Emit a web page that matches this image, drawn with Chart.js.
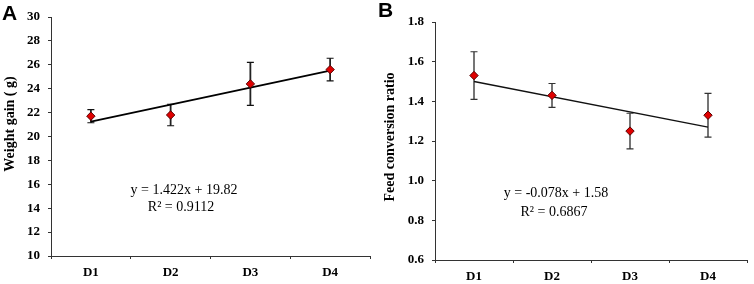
<!DOCTYPE html>
<html>
<head>
<meta charset="utf-8">
<script src="https://cdn.jsdelivr.net/npm/chart.js@4/dist/chart.umd.min.js"></script>
<style>
	html, body { margin: 0; padding: 0; background: #fff; }
	.panel { position: absolute; top: 0; width: 377px; height: 284px; }
	#panel-a { left: 0; }
	#panel-b { left: 377px; }
</style>
</head>
<body>
<div class="panel" id="panel-a"><canvas id="chart-a"></canvas></div>
<div class="panel" id="panel-b"><canvas id="chart-b"></canvas></div>
<script>
const CATEGORIES = ["D1", "D2", "D3", "D4"];

// Panel A - weight gain (g)
const WEIGHT_GAIN = [21.7, 21.8, 24.4, 25.6];
const WEIGHT_SD = [0.55, 0.9, 1.8, 0.95];
const WEIGHT_TREND = [21.24, null, null, 25.51];
const WEIGHT_TICKS = [10, 12, 14, 16, 18, 20, 22, 24, 26, 28, 30];

// Panel B - feed conversion ratio
const FCR = [1.53, 1.43, 1.25, 1.33];
const FCR_SD = [0.12, 0.06, 0.09, 0.11];
const FCR_TREND = [1.5, null, null, 1.27];
const FCR_TICKS = [0.6, 0.8, 1.0, 1.2, 1.4, 1.6, 1.8];

const SERIF = '"Liberation Serif", "Times New Roman", serif';
const SANS = '"Liberation Sans", Arial, sans-serif';
const AXIS = "#333";

// error bars, panel letter, axis title and regression text
const extrasPlugin = {
	id: "extras",
	beforeDatasetsDraw(chart, args, opts) {
		const { ctx, scales } = chart;
		const meta = chart.getDatasetMeta(0);
		ctx.save();
		opts.values.forEach((v, i) => {
			const x = meta.data[i].x;
			const top = scales.y.getPixelForValue(v + opts.sd[i]);
			const bot = scales.y.getPixelForValue(v - opts.sd[i]);
			ctx.strokeStyle = opts.errColor;
			ctx.lineWidth = 1.8;
			ctx.beginPath();
			ctx.moveTo(x, top);
			ctx.lineTo(x, bot);
			ctx.stroke();
			ctx.strokeStyle = opts.capColor;
			ctx.lineWidth = 1.2;
			ctx.beginPath();
			ctx.moveTo(x - 3.5, top);
			ctx.lineTo(x + 3.5, top);
			ctx.moveTo(x - 3.5, bot);
			ctx.lineTo(x + 3.5, bot);
			ctx.stroke();
		});
		ctx.restore();
	},
	afterDraw(chart, args, opts) {
		const { ctx } = chart;
		ctx.save();
		ctx.fillStyle = "#000";
		ctx.font = `bold 21px ${SANS}`;
		ctx.textAlign = "left";
		ctx.textBaseline = "alphabetic";
		ctx.fillText(opts.letter, opts.letterX, opts.letterY);

		ctx.save();
		ctx.translate(opts.titleX, opts.titleY);
		ctx.rotate(-Math.PI / 2);
		ctx.font = `bold 14px ${SERIF}`;
		ctx.textAlign = "center";
		ctx.textBaseline = "middle";
		ctx.fillText(opts.title, 0, 0);
		ctx.restore();

		ctx.font = `14px ${SERIF}`;
		ctx.textAlign = "center";
		ctx.textBaseline = "middle";
		ctx.fillText(opts.eq, opts.eqX, opts.eqY);
		ctx.fillText(opts.r2, opts.r2X, opts.r2Y);
		ctx.restore();
	},
};

const makeChart = (id, cfg) => {
	const axisFont = { family: SERIF, size: 13, weight: "bold" };
	return new Chart(document.getElementById(id), {
		type: "line",
		data: {
			labels: CATEGORIES,
			datasets: [
				{
					data: cfg.values,
					showLine: false,
					pointStyle: "rectRot",
					pointRadius: 4.2,
					pointBackgroundColor: "#e00000",
					pointBorderColor: "#5a0000",
					pointBorderWidth: 1,
					order: 0,
				},
				{
					data: cfg.trend,
					spanGaps: true,
					borderColor: cfg.lineColor,
					borderWidth: cfg.lineWidth,
					pointRadius: 0,
					order: 1,
				},
			],
		},
		options: {
			responsive: false,
			animation: false,
			layout: { padding: { left: 0, top: cfg.top, right: 7, bottom: 0 } },
			plugins: {
				legend: { display: false },
				tooltip: { enabled: false },
				extras: cfg.extras,
			},
			scales: {
				x: {
					offset: true,
					grid: { display: true, offset: true, drawOnChartArea: false, tickLength: 3, color: AXIS },
					border: { display: true, color: AXIS, width: 1 },
					ticks: { font: axisFont, color: "#000", padding: 6, maxRotation: 0 },
					afterFit: (s) => { s.height = cfg.xHeight; },
				},
				y: {
					min: cfg.ticks[0],
					max: cfg.ticks[cfg.ticks.length - 1],
					afterBuildTicks: (s) => { s.ticks = cfg.ticks.map((v) => ({ value: v })); },
					grid: { display: true, drawOnChartArea: false, tickLength: 3, color: AXIS },
					border: { display: true, color: AXIS, width: 1 },
					ticks: { font: axisFont, color: "#000", padding: 8, callback: cfg.fmt },
					afterFit: (s) => { s.width = cfg.yWidth; },
				},
			},
		},
		plugins: [extrasPlugin],
	});
};

document.getElementById("chart-a").width = 377;
document.getElementById("chart-a").height = 284;
document.getElementById("chart-b").width = 377;
document.getElementById("chart-b").height = 284;

makeChart("chart-a", {
	values: WEIGHT_GAIN,
	trend: WEIGHT_TREND,
	ticks: WEIGHT_TICKS,
	lineColor: "#000",
	lineWidth: 1.8,
	top: 17,
	xHeight: 28,
	yWidth: 51,
	fmt: (v) => v,
	extras: {
		values: WEIGHT_GAIN,
		sd: WEIGHT_SD,
		errColor: "#222",
		capColor: "#111",
		letter: "A",
		letterX: 2,
		letterY: 20,
		title: "Weight gain ( g)",
		titleX: 10,
		titleY: 124,
		eq: "y = 1.422x + 19.82",
		eqX: 184,
		eqY: 190,
		r2: "R² = 0.9112",
		r2X: 181,
		r2Y: 207,
	},
});

makeChart("chart-b", {
	values: FCR,
	trend: FCR_TREND,
	ticks: FCR_TICKS,
	lineColor: "#111",
	lineWidth: 1.4,
	top: 22,
	xHeight: 24,
	yWidth: 58,
	fmt: (v) => Number(v).toFixed(1),
	extras: {
		values: FCR,
		sd: FCR_SD,
		errColor: "#666",
		capColor: "#333",
		letter: "B",
		letterX: 1,
		letterY: 17,
		title: "Feed conversion ratio",
		titleX: 13,
		titleY: 137,
		eq: "y = -0.078x + 1.58",
		eqX: 179,
		eqY: 193,
		r2: "R² = 0.6867",
		r2X: 177,
		r2Y: 212,
	},
});
</script>
</body>
</html>
